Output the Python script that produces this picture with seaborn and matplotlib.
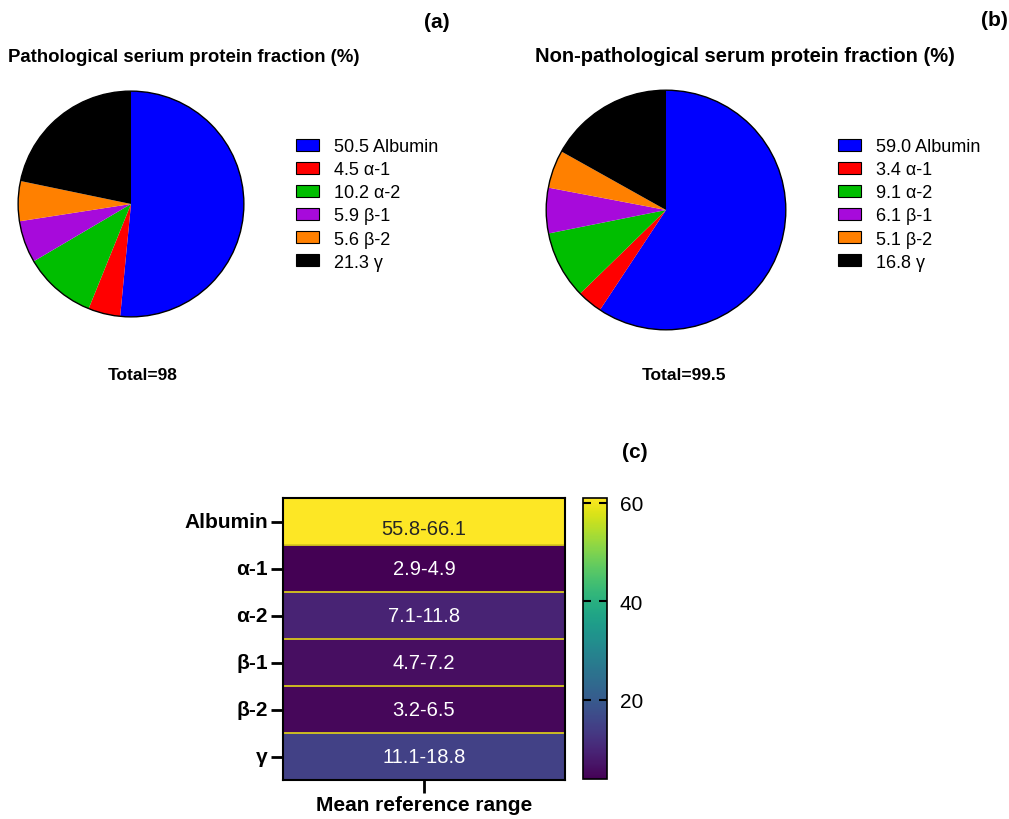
import matplotlib
matplotlib.use("Agg")
import matplotlib.pyplot as plt
from matplotlib.patches import Patch, Circle
import numpy as np
import pandas as pd
import seaborn as sns

# ---- data -------------------------------------------------------------
fractions = ["Albumin", "α-1", "α-2", "β-1", "β-2", "γ"]
pathological = [50.5, 4.5, 10.2, 5.9, 5.6, 21.3]
non_pathological = [59.0, 3.4, 9.1, 6.1, 5.1, 16.8]
ref_low = [55.8, 2.9, 7.1, 4.7, 3.2, 11.1]
ref_high = [66.1, 4.9, 11.8, 7.2, 6.5, 18.8]
slice_colors = ["#0000FF", "#FF0000", "#00BE00", "#A70ADB", "#FF8000", "#000000"]

# ---- style ------------------------------------------------------------
sns.set_theme(style="white")
plt.rcParams["font.family"] = ["Liberation Sans", "DejaVu Sans"]
for key in ["text.color", "axes.labelcolor", "xtick.color", "ytick.color",
            "axes.edgecolor"]:
    plt.rcParams[key] = "black"

W, H = 1009, 820
fig = plt.figure(figsize=(W / 100, H / 100), dpi=100)


def box(left, top, width, height):
    """Axes rectangle given in pixel coordinates from the top-left corner."""
    return [left / W, 1 - (top + height) / H, width / W, height / H]


def draw_pie(rect, values, title, title_x, title_size, total_txt, total_xy,
             legend_xy):
    ax = fig.add_axes(rect)
    ax.pie(values, colors=slice_colors, startangle=90, counterclock=False,
           radius=1.0, wedgeprops=dict(linewidth=0))
    ax.add_patch(Circle((0, 0), 1.0, fill=False, edgecolor="black", lw=1.0))
    ax.set_xlim(-1.01, 1.01)
    ax.set_ylim(-1.01, 1.01)
    ax.set_aspect("equal")
    ax.axis("off")

    fig.text(title_x / W, 1 - 57 / H, title, ha="left", va="center",
             fontsize=title_size, fontweight="bold")
    fig.text(total_xy[0] / W, 1 - total_xy[1] / H, total_txt, ha="center",
             va="center", fontsize=12.5, fontweight="bold")

    handles = [Patch(facecolor=c, edgecolor="black", linewidth=0.8,
                     label=f"{v:.1f} {n}")
               for c, v, n in zip(slice_colors, values, fractions)]
    fig.legend(handles=handles, loc="upper left",
               bbox_to_anchor=(legend_xy[0] / W, 1 - legend_xy[1] / H),
               frameon=False, fontsize=13, handlelength=1.3,
               handleheight=0.65, handletextpad=0.8, labelspacing=0.34,
               borderpad=0, borderaxespad=0)


draw_pie(box(17, 91, 228, 228), pathological,
         "Pathological serium protein fraction (%)", 8, 13.4,
         "Total=98", (143, 376), (296, 139))
draw_pie(box(545, 90, 242, 242), non_pathological,
         "Non-pathological serum protein fraction (%)", 535, 14.5,
         "Total=99.5", (684, 376), (838, 139))

# ---- heatmap of reference ranges -------------------------------------
means = [(lo + hi) / 2 for lo, hi in zip(ref_low, ref_high)]
range_labels = [f"{lo}-{hi}" for lo, hi in zip(ref_low, ref_high)]
df = pd.DataFrame({"Mean reference range": means}, index=fractions)
annot = np.array(range_labels).reshape(-1, 1)

ax_h = fig.add_axes(box(283, 499, 282, 282))
cax = fig.add_axes(box(583, 499, 24, 281))
sns.heatmap(df, ax=ax_h, cbar_ax=cax, cmap="viridis", annot=annot, fmt="",
            linewidths=0, annot_kws=dict(fontsize=14.5))

# thin separators between rows
for i in range(1, len(fractions)):
    ax_h.axhline(i, color="#d8c81c", lw=1.3)

# the albumin label sits a little low in its cell
ax_h.texts[0].set_y(ax_h.texts[0].get_position()[1] + 0.14)

for sp in ax_h.spines.values():
    sp.set_visible(True)
    sp.set_linewidth(1.5)
    sp.set_color("black")
ax_h.tick_params(axis="both", left=True, bottom=True, length=9, width=2,
                 color="black", pad=2)
ax_h.set_yticklabels(fractions, rotation=0, fontsize=15, fontweight="bold")
ax_h.set_xticklabels(df.columns, fontsize=15, fontweight="bold")
ax_h.set_ylabel("")

cbar = ax_h.collections[0].colorbar
cbar.set_ticks([20, 40, 60])
cbar.outline.set_visible(True)
cbar.outline.set_edgecolor("black")
cbar.outline.set_linewidth(1.2)
cbar.ax.yaxis.set_tick_params(which="major", direction="in", left=True,
                              right=True, labelleft=False, labelright=True,
                              length=6, width=1.5, color="black",
                              labelsize=15, pad=9)
for t in cbar.ax.yaxis.get_major_ticks():
    t.tick1line.set_zorder(5)
    t.tick2line.set_zorder(5)
cbar.ax.set_axisbelow(False)

# ---- panel letters ----------------------------------------------------
for letter, (x, y) in zip(["(a)", "(b)", "(c)"],
                          [(437, 23), (994, 21), (635, 452)]):
    fig.text(x / W, 1 - y / H, letter, ha="center", va="center",
             fontsize=15, fontweight="bold")

fig.savefig("out.png", dpi=100)
